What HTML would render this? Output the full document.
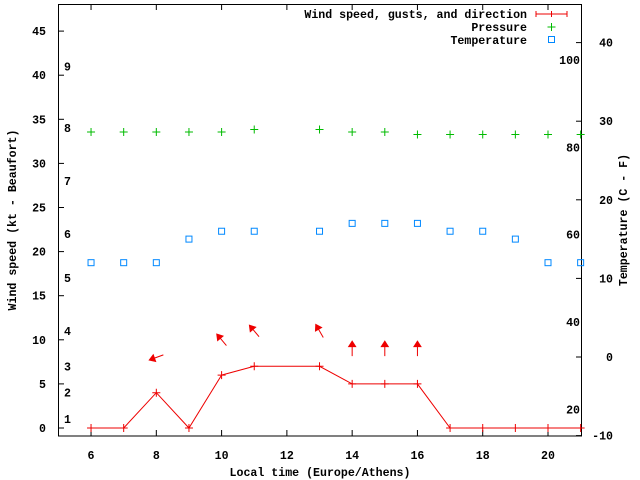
<!DOCTYPE html>
<html><head><meta charset="utf-8"><style>
body{margin:0;background:#fff}
svg{display:block;font-family:"Liberation Mono",monospace;font-weight:bold;font-size:11.6px}
</style></head><body>
<svg id="chart" width="640" height="480" viewBox="0 0 640 480">
<rect x="58.5" y="4.5" width="523" height="431.5" fill="none" stroke="#000"/>
<g id="ticks"></g><g id="series"></g>
<text x="16" y="220" transform="rotate(-90 16 220)" text-anchor="middle">Wind speed (kt - Beaufort)</text>
<text x="627" y="220" transform="rotate(-90 627 220)" text-anchor="middle">Temperature (C - F)</text>
<text x="320" y="476" text-anchor="middle">Local time (Europe/Athens)</text>
<g>
<text x="527" y="18" text-anchor="end">Wind speed, gusts, and direction</text>
<path d="M536 14H567M536 11V17M551.5 11V17M567 11V17" stroke="#e00" fill="none"/>
<text x="527" y="31" text-anchor="end">Pressure</text>
<path d="M547.5 27H555.5M551.5 23V31" stroke="#0b0"/>
<text x="527" y="44" text-anchor="end">Temperature</text>
<rect x="548.5" y="36.5" width="6" height="6" fill="none" stroke="#08f"/>
</g>
</svg>
<script>
const hours=[6,7,8,9,10,11,13,14,15,16,17,18,19,20,21];
const windSpeed=[0,0,4,0,6,7,7,5,5,5,0,0,0,0,0];
const pressure=[1014,1014,1014,1014,1014,1015,1015,1014,1014,1013,1013,1013,1013,1013,1013];
const temperature=[12,12,12,15,16,16,16,17,17,17,16,16,15,12,12];
const gustHours=[8,10,11,13,14,15,16];
const gustSpeed=[8,10,11,11,9,9,9];
const gustDir=[250,320,320,330,0,0,0];
const xTicks=[6,8,10,12,14,16,18,20];
const yTicks=[0,5,10,15,20,25,30,35,40,45];
const y2Ticks=[-10,0,10,20,30,40];
const beaufort=[[1,1],[2,4],[3,7],[4,11],[5,17],[6,22],[7,28],[8,34],[9,41]];
const fahrenheit=[20,40,60,80,100];
const X=h=>58.4+(h-5)*32.64;
const Y=v=>428-v*8.82;
const Y2=t=>357-t*7.86;
const YP=p=>132-(p-1014)*2.5;
const NS='http://www.w3.org/2000/svg';
function mk(tag,at,parent,txt){const e=document.createElementNS(NS,tag);for(const k in at)e.setAttribute(k,at[k]);if(txt!==undefined)e.textContent=txt;document.getElementById(parent).appendChild(e);return e;}
xTicks.forEach(h=>{const x=X(h);
const t=mk('path',{d:`M${x} 436V430M${x} 4V10`,stroke:'#000'},'ticks');


const l=mk('text',{x:x,y:459,'text-anchor':'middle'},'ticks',h);

});
yTicks.forEach(v=>{const y=Y(v);
const t=mk('path',{d:`M58 ${y}H64`,stroke:'#000'},'ticks');


const l=mk('text',{x:46,y:y+4,'text-anchor':'end'},'ticks',v);

});
y2Ticks.forEach(v=>{const y=Y2(v);
const t=mk('path',{d:`M582 ${y}H576`,stroke:'#000'},'ticks');


const l=mk('text',{x:613,y:y+4,'text-anchor':'end'},'ticks',v);

});
beaufort.forEach(b=>{const l=mk('text',{x:64,y:Y(b[1])+4},'ticks',b[0]);

});
fahrenheit.forEach(f=>{const l=mk('text',{x:580,y:Y2((f-32)*5/9)+4,'text-anchor':'end'},'ticks',f);

});
const line=mk('polyline',{points:hours.map((h,i)=>X(h)+','+Y(windSpeed[i])).join(' '),fill:'none',stroke:'#e00'},'series');


hours.forEach((h,i)=>{const x=X(h),y=Y(windSpeed[i]);
const p=mk('path',{d:`M${x-4} ${y}H${x+4}M${x} ${y-4}V${y+4}`,stroke:'#e00'},'series');


const yp=YP(pressure[i]);
const q=mk('path',{d:`M${x-4} ${yp}H${x+4}M${x} ${yp-4}V${yp+4}`,stroke:'#0b0'},'series');


const yt=Y2(temperature[i]);
const r=mk('rect',{x:x-3,y:yt-3,width:6,height:6,fill:'none',stroke:'#08f'},'series');

});
gustHours.forEach((h,i)=>{const cx=X(h),cy=Y(gustSpeed[i]);const a=gustDir[i]*Math.PI/180;
const dx=Math.sin(a),dy=-Math.cos(a);const L=7.5;
const hx=cx+dx*L,hy=cy+dy*L,tx=cx-dx*L,ty=cy-dy*L;
const px=-dy,py=dx;
const g=mk('path',{d:`M${tx} ${ty}L${hx} ${hy}M${hx} ${hy}L${hx-dx*5.5+px*3.5} ${hy-dy*5.5+py*3.5}L${hx-dx*5.5-px*3.5} ${hy-dy*5.5-py*3.5}Z`,stroke:'#e00',fill:'#e00'},'series');

});
</script>
</body></html>
